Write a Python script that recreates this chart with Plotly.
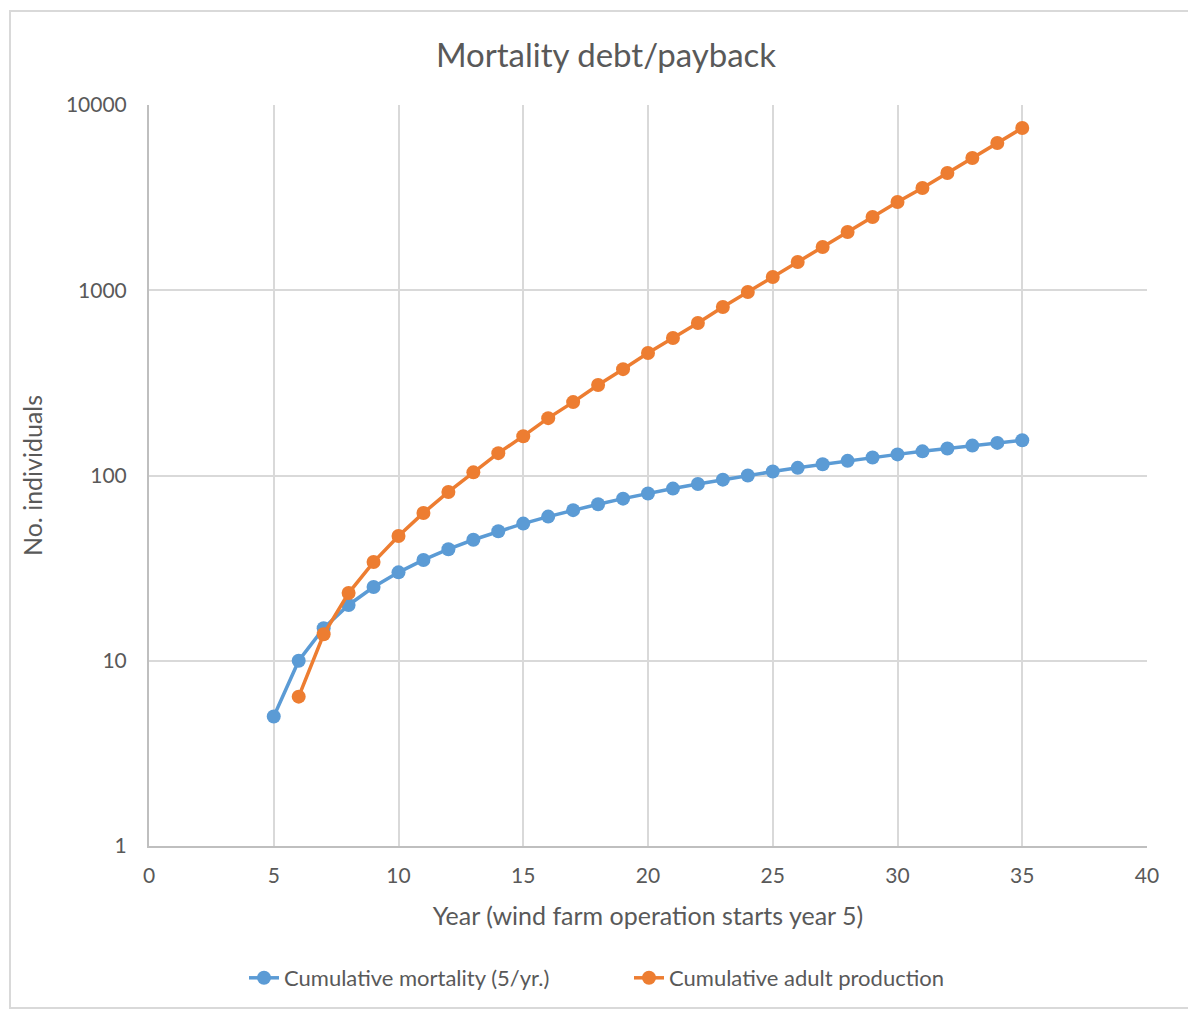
import plotly.graph_objects as go

years_mort = list(range(5, 36))
mortality = [5 * (i + 1) for i in range(len(years_mort))]  # 5,10,...,155

years_prod = list(range(6, 36))
production = [6.4, 13.9, 23.2, 34.1, 47.1, 62.8, 81.5, 104, 132, 163,
              204, 249, 308, 375, 458, 552, 665, 812, 978, 1180,
              1422, 1711, 2062, 2485, 2995, 3561, 4292, 5171, 6233, 7510]

x_ticks = [0, 5, 10, 15, 20, 25, 30, 35, 40]
y_ticks = [1, 10, 100, 1000, 10000]

BLUE = "#5B9BD5"
ORANGE = "#ED7D31"
TXT = "#595959"
GRID = "#D9D9D9"
FONT = "Lato, Open Sans, sans-serif"

fig = go.Figure()
fig.add_trace(go.Scatter(x=years_mort, y=mortality, mode="lines+markers",
                         name="Cumulative mortality (5/yr.)",
                         line=dict(color=BLUE, width=3.5),
                         marker=dict(color=BLUE, size=14)))
fig.add_trace(go.Scatter(x=years_prod, y=production, mode="lines+markers",
                         name="Cumulative adult production",
                         line=dict(color=ORANGE, width=3.5),
                         marker=dict(color=ORANGE, size=14)))

# page body has an 8px offset; compensate so plot area sits at x 149..1147, y 105..846
OFF = 8
W, H = 1196, 1011
L, R, T, B = 149 - OFF, 49 + OFF, 105 - OFF, 165 + OFF
pw, ph = W - L - R, H - T - B

def px(x):
    return (x - OFF - L) / pw

def py(y):
    return 1 - (y - OFF - T) / ph

fig.update_layout(
    width=W, height=H,
    margin=dict(l=L, r=R, t=T, b=B),
    paper_bgcolor="white", plot_bgcolor="white",
    font=dict(family=FONT, color=TXT, size=20),
    title=dict(text="Mortality debt/payback", x=px(606), xanchor="center",
               xref="paper",
               y=1 - (55 - OFF) / H, yanchor="middle",
               font=dict(size=33, color=TXT, family=FONT)),
    xaxis=dict(range=[0, 40], tickvals=x_ticks, ticktext=[str(v) for v in x_ticks],
               showgrid=True, gridcolor=GRID, gridwidth=2,
               showline=True, linecolor="#BFBFBF", linewidth=2,
               zeroline=False, ticks="outside", ticklen=10, tickcolor="rgba(0,0,0,0)",
               tickfont=dict(size=21, color=TXT),
               title=dict(text="Year (wind farm operation starts year 5)",
                          font=dict(size=25, color=TXT), standoff=21)),
    yaxis=dict(type="log", range=[0, 4], tickvals=y_ticks,
               ticktext=[str(v) for v in y_ticks],
               showgrid=True, gridcolor=GRID, gridwidth=2,
               showline=True, linecolor="#BFBFBF", linewidth=2,
               zeroline=False, ticks="outside", ticklen=16, tickcolor="rgba(0,0,0,0)",
               tickfont=dict(size=21, color=TXT),
               title=dict(text="No. individuals", font=dict(size=25, color=TXT),
                          standoff=16)),
    legend=dict(orientation="h", x=px(244), xanchor="left",
                y=py(978), yanchor="middle",
                font=dict(size=22, color=TXT),
                entrywidth=340, entrywidthmode="pixels",
                traceorder="normal"),
    shapes=[dict(type="rect", xref="paper", yref="paper",
                 x0=px(10), x1=px(1230), y0=py(1008), y1=py(11),
                 line=dict(color="#D9D9D9", width=2), fillcolor="rgba(0,0,0,0)",
                 layer="below")],
)

fig.write_html("out.html")
